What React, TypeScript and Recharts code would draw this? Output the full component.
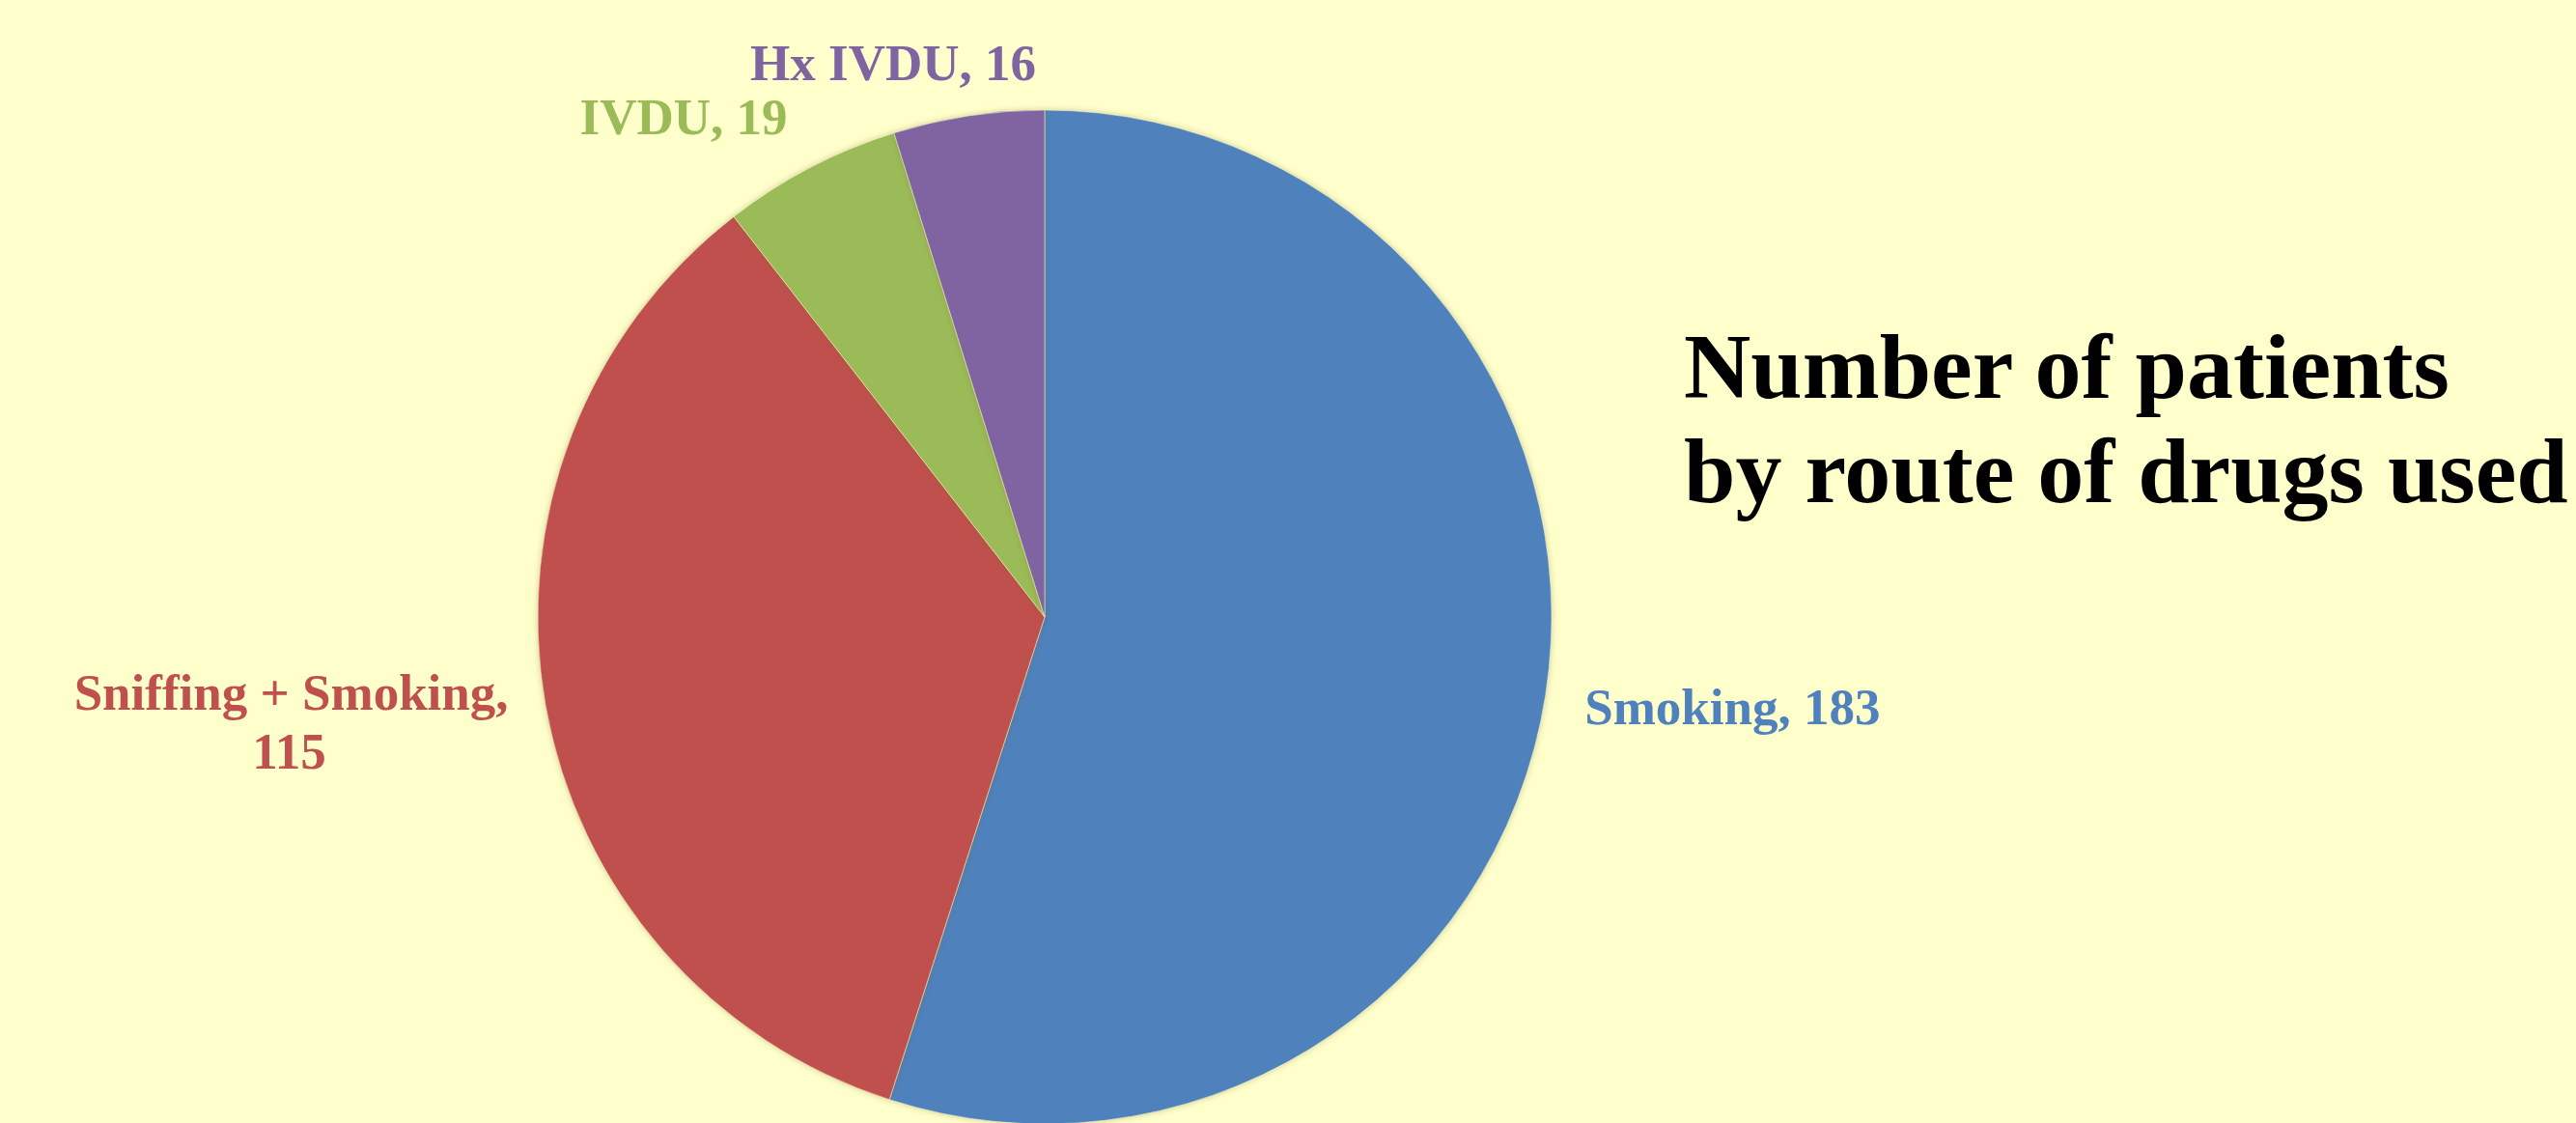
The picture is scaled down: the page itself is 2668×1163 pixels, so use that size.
import React from 'react';
import { PieChart, Pie, Cell } from 'recharts';

const ROUTES = ['Smoking', 'Sniffing + Smoking', 'IVDU', 'Hx IVDU'];
const PATIENTS = [183, 115, 19, 16];
const COLORS = ['#4F81BD', '#C0504D', '#9BBB59', '#8064A2'];

const data = ROUTES.map((name, i) => ({ name, value: PATIENTS[i] }));

// fine placement of each data label relative to its radial anchor point
const LABEL_LAYOUT: Record<string, { anchor: 'start' | 'end'; dx: number; dy: number }> = {
  'Smoking': { anchor: 'start', dx: 1, dy: 23 },
  'Sniffing + Smoking': { anchor: 'end', dx: 1, dy: -2 },
  'IVDU': { anchor: 'end', dx: -5, dy: 1 },
  'Hx IVDU': { anchor: 'end', dx: 76, dy: 3 },
};

const RAD = Math.PI / 180;
const FONT = '"Liberation Serif", "Times New Roman", serif';
const LABEL_SIZE = 53;

function renderLabel(props: any) {
  const { cx, cy, midAngle, outerRadius, index, name, value } = props;
  const r = outerRadius + 40;
  const x = cx + r * Math.cos(-midAngle * RAD);
  const y = cy + r * Math.sin(-midAngle * RAD);
  const lay = LABEL_LAYOUT[name] || { anchor: 'start', dx: 0, dy: 0 };
  const color = COLORS[index % COLORS.length];

  if (name === 'Sniffing + Smoking') {
    return (
      <text fontFamily={FONT} fontWeight="bold" fontSize={LABEL_SIZE} fill={color}>
        <tspan x={x + lay.dx} y={y + lay.dy} textAnchor="end">{name},</tspan>
        <tspan x={x + lay.dx - 227} y={y + lay.dy + 61} textAnchor="middle">{value}</tspan>
      </text>
    );
  }

  return (
    <text
      x={x + lay.dx}
      y={y + lay.dy}
      textAnchor={lay.anchor}
      fontFamily={FONT}
      fontWeight="bold"
      fontSize={LABEL_SIZE}
      fill={color}
    >
      {`${name}, ${value}`}
    </text>
  );
}

export default function App() {
  return (
    <div style={{ position: 'absolute', left: 0, top: 0, width: 2668, height: 1163, background: '#FFFFCC', overflow: 'hidden' }}>
      <PieChart width={2668} height={1163} margin={{ top: 0, right: 0, bottom: 0, left: 0 }}>
        <Pie
          data={data}
          dataKey="value"
          nameKey="name"
          cx={1082}
          cy={639}
          outerRadius={525}
          startAngle={90}
          endAngle={-270}
          stroke="#FFFFCC"
          strokeWidth={1}
          strokeOpacity={0.5}
          labelLine={false}
          label={renderLabel}
          isAnimationActive={false}
          style={{ filter: 'drop-shadow(0px 0px 3px rgba(120, 110, 40, 0.35))' }}
        >
          {data.map((entry, index) => (
            <Cell key={`cell-${index}`} fill={COLORS[index % COLORS.length]} />
          ))}
        </Pie>
      </PieChart>
      <div
        style={{
          position: 'absolute',
          left: 1744,
          top: 326,
          fontFamily: FONT,
          fontWeight: 'bold',
          fontSize: 96,
          lineHeight: '108px',
          color: '#000',
          whiteSpace: 'nowrap',
        }}
      >
        <div>Number of patients</div>
        <div>by route of drugs used</div>
      </div>
    </div>
  );
}
